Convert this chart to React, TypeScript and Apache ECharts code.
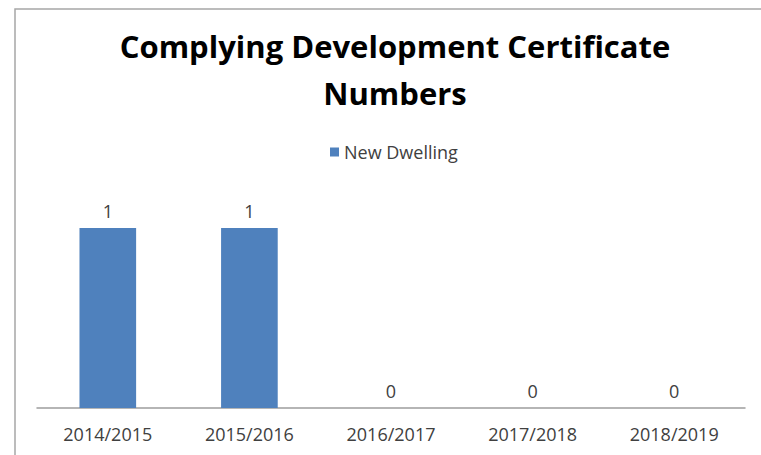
import React, { useEffect, useRef } from "react";
import * as echarts from "echarts";

const categories = ["2014/2015", "2015/2016", "2016/2017", "2017/2018", "2018/2019"];
const newDwelling = [1, 1, 0, 0, 0];
const titleText = "Complying Development Certificate\nNumbers";
const seriesName = "New Dwelling";

export default function App() {
  const ref = useRef<HTMLDivElement>(null);
  useEffect(() => {
    if (!ref.current) return;
    const chart = echarts.init(ref.current, undefined, { renderer: "svg" });
    chart.setOption({
      animation: false,
      backgroundColor: "#ffffff",
      textStyle: { fontFamily: "Open Sans" },
      title: {
        text: titleText,
        left: 390,
        textAlign: "center",
        top: 17,
        textStyle: {
          fontFamily: "Open Sans",
          fontWeight: "bold",
          fontSize: 31,
          lineHeight: 47,
          color: "#000000",
        },
      },
      legend: {
        data: [seriesName],
        top: 138,
        left: 325,
        itemWidth: 9,
        itemHeight: 9,
        itemGap: 6,
        icon: "rect",
        textStyle: { fontSize: 18, color: "#404040", fontFamily: "Open Sans" },
      },
      graphic: [
        {
          type: "rect",
          shape: { x: 15, y: 9, width: 800, height: 500 },
          style: { fill: "none", stroke: "#a6a6a6", lineWidth: 1.5 },
          silent: true,
        },
      ],
      grid: { left: 37, right: 16, top: 192, bottom: 47, containLabel: false },
      xAxis: {
        type: "category",
        data: categories,
        axisLine: { show: true, lineStyle: { color: "#9d9d9d", width: 1.5 } },
        axisTick: { show: false },
        axisLabel: { fontSize: 18, color: "#404040", margin: 17, fontFamily: "Open Sans" },
      },
      yAxis: {
        type: "value",
        min: 0,
        max: 1.2,
        show: false,
        splitLine: { show: false },
      },
      series: [
        {
          name: seriesName,
          type: "bar",
          data: newDwelling,
          barWidth: "40%",
          itemStyle: { color: "#4f81bd" },
          label: {
            show: true,
            position: "top",
            distance: 8,
            fontSize: 18,
            color: "#404040",
            fontFamily: "Open Sans",
          },
        },
      ],
    });
    return () => chart.dispose();
  }, []);
  return (
    <div
      ref={ref}
      style={{ position: "fixed", left: 0, top: 0, width: 761, height: 455 }}
    />
  );
}
